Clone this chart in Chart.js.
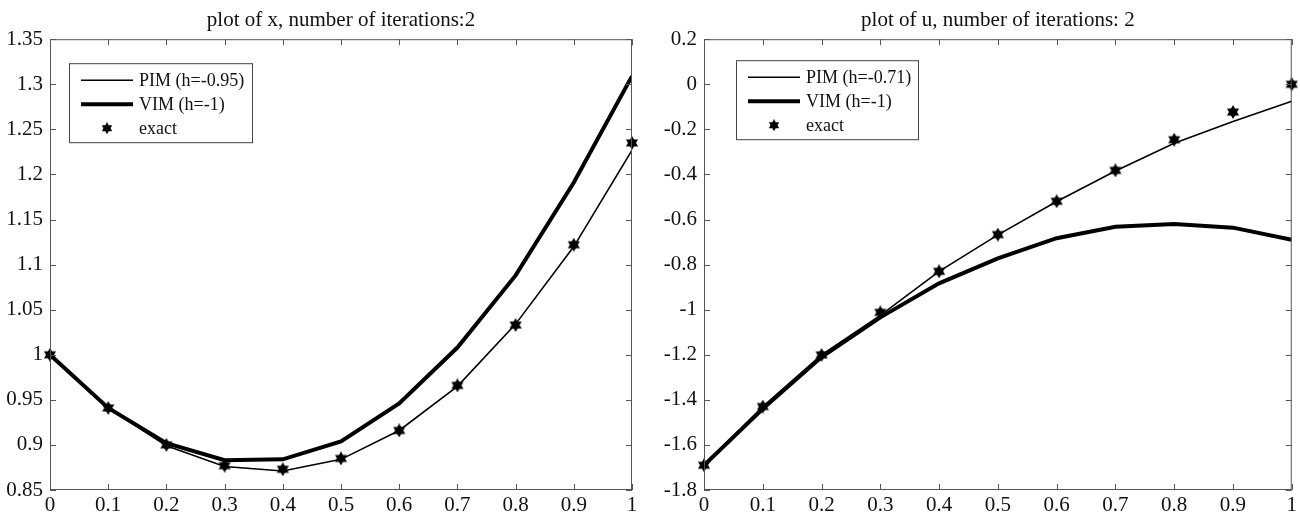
<!DOCTYPE html>
<html>
<head>
<meta charset="utf-8">
<title>plot of x and u</title>
<script src="https://cdn.jsdelivr.net/npm/chart.js@4.4.1/dist/chart.umd.min.js"></script>
<style>
	html, body { margin: 0; padding: 0; background: #fff; }
	.panel { position: absolute; top: 0; width: 650px; height: 520px; }
	#panel-x { left: 0; }
	#panel-u { left: 650px; }
</style>
</head>
<body>
<div class="panel" id="panel-x"><canvas id="chart-x" width="650" height="520"></canvas></div>
<div class="panel" id="panel-u"><canvas id="chart-u" width="650" height="520"></canvas></div>
<script>
	'use strict';

	// Sample points (shared by both plots)
	var steps = [ 0, 0.1, 0.2, 0.3, 0.4, 0.5, 0.6, 0.7, 0.8, 0.9, 1 ];

	// Plot of x
	var xPim   = [ 1.000, 0.941, 0.899, 0.876, 0.871, 0.884, 0.916, 0.965, 1.034, 1.120, 1.227 ];
	var xVim   = [ 1.000, 0.941, 0.902, 0.883, 0.884, 0.904, 0.946, 1.008, 1.088, 1.191, 1.309 ];
	var xExact = [ 1.000, 0.941, 0.900, 0.877, 0.873, 0.885, 0.916, 0.966, 1.033, 1.122, 1.235 ];

	// Plot of u
	var uPim   = [ -1.690, -1.430, -1.200, -1.025, -0.830, -0.668, -0.520, -0.385, -0.262, -0.165, -0.075 ];
	var uVim   = [ -1.690, -1.440, -1.210, -1.034, -0.883, -0.772, -0.683, -0.632, -0.620, -0.636, -0.690 ];
	var uExact = [ -1.690, -1.430, -1.201, -1.012, -0.830, -0.667, -0.519, -0.382, -0.246, -0.123, 0.000 ];

	// Tick labels
	var stepTicks = [ 0, 0.1, 0.2, 0.3, 0.4, 0.5, 0.6, 0.7, 0.8, 0.9, 1 ];
	var xTicks = [ 0.85, 0.9, 0.95, 1, 1.05, 1.1, 1.15, 1.2, 1.25, 1.3, 1.35 ];
	var uTicks = [ -1.8, -1.6, -1.4, -1.2, -1, -0.8, -0.6, -0.4, -0.2, 0, 0.2 ];

	var serif = '"Liberation Serif", "Times New Roman", serif';

	// Six pointed star used for the exact solution
	function makeStar( size ) {
		var c = document.createElement( 'canvas' );
		c.width = size;
		c.height = size;
		var g = c.getContext( '2d' );
		var r = size / 2;
		g.fillStyle = '#000';
		[ -Math.PI / 2, Math.PI / 2 ].forEach( function( start ) {
			g.beginPath();
			for ( var i = 0; i < 3; i++ ) {
				var a = start + i * 2 * Math.PI / 3;
				g.lineTo( r + r * Math.cos( a ), r + r * Math.sin( a ) );
			}
			g.closePath();
			g.fill();
		} );
		return c;
	}

	var starPoint = makeStar( 14 );
	var starLegend = makeStar( 12 );

	function toPoints( ys ) {
		return steps.map( function( s, i ) {
			return { x: s, y: ys[ i ] };
		} );
	}

	function fmt( v ) {
		return String( Number( v.toFixed( 2 ) ) );
	}

	// Box with inward ticks on all four sides (matlab look)
	var framePlugin = {
		id: 'frame',
		afterDatasetsDraw: function( chart ) {
			var ctx = chart.ctx;
			var a = chart.chartArea;
			var xs = chart.scales.x;
			var ys = chart.scales.y;
			var len = 6;

			ctx.save();
			ctx.strokeStyle = '#555';
			ctx.lineWidth = 1;
			ctx.strokeRect( a.left + 0.5, a.top + 0.5, a.right - a.left - 1, a.bottom - a.top - 1 );

			ctx.beginPath();
			xs.ticks.forEach( function( t ) {
				var px = Math.round( xs.getPixelForValue( t.value ) ) + 0.5;
				ctx.moveTo( px, a.bottom );
				ctx.lineTo( px, a.bottom - len );
				ctx.moveTo( px, a.top );
				ctx.lineTo( px, a.top + len );
			} );
			ys.ticks.forEach( function( t ) {
				var py = Math.round( ys.getPixelForValue( t.value ) ) + 0.5;
				ctx.moveTo( a.left, py );
				ctx.lineTo( a.left + len, py );
				ctx.moveTo( a.right, py );
				ctx.lineTo( a.right - len, py );
			} );
			ctx.stroke();
			ctx.restore();
		}
	};

	// Legend box drawn inside the plot area
	var boxLegendPlugin = {
		id: 'boxLegend',
		afterDraw: function( chart, args, opts ) {
			var ctx = chart.ctx;
			var a = chart.chartArea;
			var left = a.left + opts.offsetX;
			var top = a.top + opts.offsetY;
			var w = opts.width;
			var h = opts.height;

			ctx.save();
			ctx.fillStyle = '#fff';
			ctx.fillRect( left, top, w, h );
			ctx.strokeStyle = '#444';
			ctx.lineWidth = 1;
			ctx.strokeRect( left + 0.5, top + 0.5, w, h );

			ctx.font = '18px ' + serif;
			ctx.textBaseline = 'middle';
			ctx.fillStyle = '#111';

			chart.data.datasets.forEach( function( ds, i ) {
				var cy = top + 17 + i * 24;
				if ( ds.showLine === false ) {
					ctx.drawImage( starLegend, left + 38 - 6, cy - 6 );
				} else {
					ctx.strokeStyle = '#000';
					ctx.lineWidth = ds.borderWidth;
					ctx.beginPath();
					ctx.moveTo( left + 12, cy );
					ctx.lineTo( left + 64, cy );
					ctx.stroke();
				}
				ctx.fillText( ds.label, left + 70, cy + 1 );
			} );
			ctx.restore();
		}
	};

	function buildChart( canvasId, opts ) {
		var ctx = document.getElementById( canvasId ).getContext( '2d' );

		return new Chart( ctx, {
			type: 'line',
			data: {
				datasets: [
					{
						label: opts.pimLabel,
						data: toPoints( opts.pim ),
						borderColor: '#000',
						borderWidth: 1.6,
						pointRadius: 0,
						tension: 0
					},
					{
						label: 'VIM (h=-1)',
						data: toPoints( opts.vim ),
						borderColor: '#000',
						borderWidth: 4,
						pointRadius: 0,
						tension: 0
					},
					{
						label: 'exact',
						data: toPoints( opts.exact ),
						showLine: false,
						pointStyle: starPoint,
						clip: false
					}
				]
			},
			options: {
				responsive: false,
				animation: false,
				layout: {
					padding: { left: 0, right: opts.padRight, top: 0, bottom: 0 }
				},
				plugins: {
					legend: { display: false },
					tooltip: { enabled: false },
					title: {
						display: true,
						text: opts.title,
						fullSize: false,
						color: '#111',
						font: { family: serif, size: 21, weight: 'normal' },
						padding: { top: 8, bottom: 6 }
					},
					boxLegend: opts.legendBox
				},
				scales: {
					x: {
						type: 'linear',
						min: 0,
						max: 1,
						afterBuildTicks: function( scale ) {
							scale.ticks = stepTicks.map( function( v ) {
								return { value: v };
							} );
						},
						afterFit: function( scale ) {
							scale.height = 30;
						},
						grid: { display: false, drawTicks: false },
						border: { display: false },
						ticks: {
							color: '#111',
							padding: 3,
							maxRotation: 0,
							autoSkip: false,
							font: { family: serif, size: 21 },
							callback: fmt
						}
					},
					y: {
						type: 'linear',
						min: opts.yTicks[ 0 ],
						max: opts.yTicks[ opts.yTicks.length - 1 ],
						afterBuildTicks: function( scale ) {
							scale.ticks = opts.yTicks.map( function( v ) {
								return { value: v };
							} );
						},
						afterFit: function( scale ) {
							scale.width = opts.axisWidth;
						},
						grid: { display: false, drawTicks: false },
						border: { display: false },
						ticks: {
							color: '#111',
							padding: 7,
							autoSkip: false,
							font: { family: serif, size: 21 },
							callback: fmt
						}
					}
				}
			},
			plugins: [ framePlugin, boxLegendPlugin ]
		} );
	}

	buildChart( 'chart-x', {
		title: 'plot of x, number of iterations:2',
		pimLabel: 'PIM (h=-0.95)',
		pim: xPim,
		vim: xVim,
		exact: xExact,
		yTicks: xTicks,
		axisWidth: 50,
		padRight: 18,
		legendBox: { offsetX: 19, offsetY: 24, width: 183, height: 79 }
	} );

	buildChart( 'chart-u', {
		title: 'plot of u, number of iterations: 2',
		pimLabel: 'PIM (h=-0.71)',
		pim: uPim,
		vim: uVim,
		exact: uExact,
		yTicks: uTicks,
		axisWidth: 54,
		padRight: 6,
		legendBox: { offsetX: 32, offsetY: 21, width: 182, height: 79 }
	} );
</script>
</body>
</html>
